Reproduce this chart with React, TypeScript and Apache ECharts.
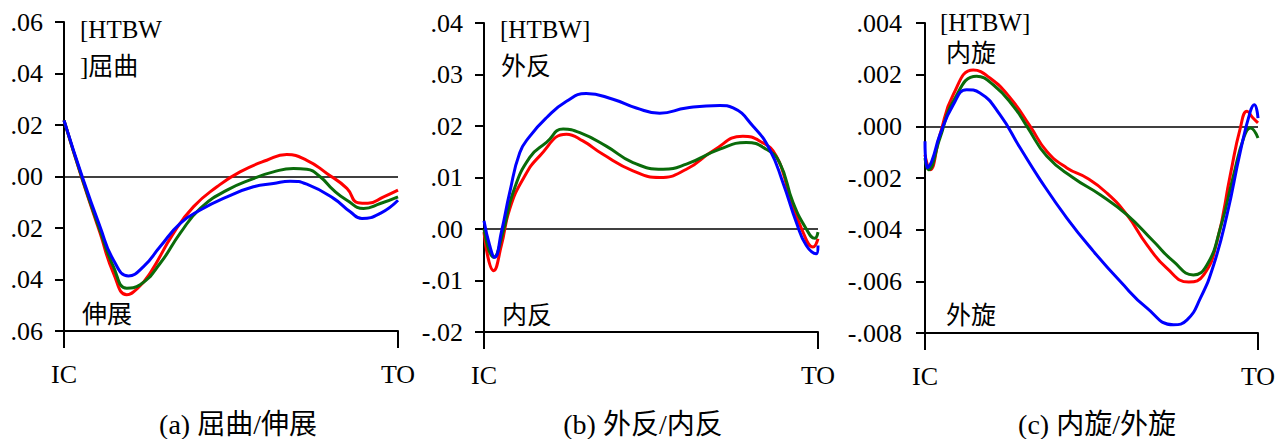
import React, { useEffect, useRef } from "react";
import * as echarts from "echarts";

// x: percent of stance (IC=0, TO=100); y: moment [HTBW]
const flexRed: number[][] = [[0,0.0218],[5.3,-0.0005],[10.8,-0.022],[14.8,-0.0375],[18.8,-0.0459],[22,-0.0435],[25.8,-0.0375],[32.8,-0.022],[38.8,-0.0117],[45.8,-0.004],[52.7,0.0018],[60.7,0.0063],[66.7,0.0085],[72.7,0.0063],[78.7,0.0012],[84.7,-0.0046],[88,-0.0102],[91,-0.0104],[95.7,-0.0079],[100,-0.0053]];
const flexGreen: number[][] = [[0,0.0218],[5.5,-0.001],[10.8,-0.021],[14.8,-0.035],[18.8,-0.0434],[22.8,-0.042],[28.8,-0.0337],[34.8,-0.022],[40.8,-0.0124],[48.8,-0.0053],[56.7,-0.0008],[62.7,0.0018],[68.7,0.0031],[72.7,0.0028],[76.7,-0.0001],[80.7,-0.0053],[84.7,-0.0092],[89.7,-0.0124],[94.7,-0.0105],[100,-0.0079]];
const flexBlue: number[][] = [[0,0.0218],[5.8,-0.0014],[10.8,-0.0195],[14.8,-0.0324],[19.3,-0.0386],[23.8,-0.035],[28.8,-0.0272],[34.8,-0.0182],[40.8,-0.013],[48.8,-0.0079],[56.7,-0.004],[62.7,-0.0027],[67.7,-0.0018],[72.7,-0.003],[80.7,-0.0085],[85.7,-0.0137],[89.2,-0.0163],[94.7,-0.0143],[100,-0.0092]];

const varRed: number[][] = [[0,-0.0006],[2.9,-0.0081],[5.2,-0.0032],[7.7,0.0039],[11.7,0.0097],[16.7,0.0142],[24.7,0.0184],[29.6,0.0171],[35.6,0.0145],[44.6,0.0113],[52.6,0.01],[60.6,0.0116],[68.6,0.0152],[77.5,0.018],[82.5,0.0171],[87.5,0.0142],[91.5,0.0065],[95.5,-0.0006],[98.5,-0.0035],[100,-0.0019]];
const varGreen: number[][] = [[0,0],[2.9,-0.0055],[5.7,-0.0006],[8.7,0.0071],[13.7,0.0139],[18.7,0.0168],[23.7,0.0194],[28.7,0.0187],[36.6,0.0161],[44.6,0.0129],[53.6,0.0116],[60.6,0.0126],[70.6,0.0155],[78.5,0.0168],[84.5,0.0155],[88.5,0.0129],[92.5,0.0052],[96.5,0],[99,-0.0018],[100,-0.0006]];
const varBlue: number[][] = [[0,0.0016],[1.7,-0.0032],[3.2,-0.0055],[5.2,-0.0006],[7.7,0.0071],[10.7,0.0148],[13.7,0.018],[18.7,0.0216],[24.7,0.0248],[30.6,0.0263],[38.6,0.0252],[45.6,0.0235],[52.6,0.0225],[60.6,0.0235],[70.6,0.024],[74.6,0.0235],[80.5,0.02],[85.5,0.0155],[89.5,0.009],[93.5,0.0013],[96.5,-0.0032],[99.5,-0.0048],[100,-0.0032]];

const rotRed: number[][] = [[0,-0.0011],[1.5,-0.00168],[4.5,-0.00032],[8.5,0.00123],[14.5,0.00218],[19.5,0.00187],[25.6,0.0011],[31.6,0],[36.6,-0.00097],[42.6,-0.00161],[48.6,-0.002],[54.6,-0.00258],[60.6,-0.00342],[66.6,-0.00458],[72.6,-0.00549],[79.2,-0.00603],[83.7,-0.00575],[87.7,-0.00445],[91.7,-0.00187],[94.7,-0.00006],[96.7,0.00058],[98.5,0.00032],[100,0.00013]];
const rotGreen: number[][] = [[0,-0.00123],[1,-0.00168],[4.5,-0.00045],[8.5,0.00097],[15.5,0.00194],[20.5,0.00161],[26.6,0.00077],[30.6,0],[36.6,-0.00116],[44.6,-0.002],[52.6,-0.00265],[60.6,-0.00342],[68.6,-0.00445],[74.6,-0.00523],[80.6,-0.00575],[84.7,-0.00536],[88.7,-0.00394],[92.7,-0.00187],[95.7,-0.00045],[97.7,-0.00006],[100,-0.00045]];
const rotBlue: number[][] = [[0,-0.00058],[0.7,-0.0016],[2,-0.00136],[4.5,-0.00032],[8.5,0.00084],[12.5,0.00142],[16.5,0.00129],[22.5,0.00045],[28.6,-0.00084],[34.6,-0.00207],[42.6,-0.00355],[50.6,-0.00484],[58.6,-0.006],[66.6,-0.00703],[74.6,-0.00768],[78.7,-0.00749],[82.7,-0.00665],[86.7,-0.00536],[90.7,-0.00342],[94.7,-0.00097],[97.7,0.00058],[98.9,0.00084],[100,0.00032]];

const xTickLabels = ["IC", "TO"];
const captions = ["(a) 屈曲/伸展", "(b) 外反/内反", "(c) 内旋/外旋"];
const yRanges = [[-0.06, 0.06, 0.02], [-0.02, 0.04, 0.01], [-0.008, 0.004, 0.002]];

const LATIN = "'Liberation Serif', 'Times New Roman', 'Noto Sans CJK SC', serif";
const COLORS = ["#ff0000", "#0a6b0a", "#0000ff"];

export default function App() {
  const ref = useRef<HTMLDivElement>(null);
  useEffect(() => {
    if (!ref.current) return;
    const chart = echarts.init(ref.current, undefined, { renderer: "svg" });
    const grids = [
      { left: 64, top: 22, width: 334, height: 309 },
      { left: 484, top: 23, width: 334, height: 309 },
      { left: 925, top: 23, width: 333, height: 310 },
    ];
    const decimals = [2, 2, 3];
    const labelMargins = [21, 21, 23];
    const xAxis = grids.map((_, i) => ({
      type: "value" as const,
      gridIndex: i,
      min: 0,
      max: 100,
      interval: 100,
      axisLine: { onZero: false, lineStyle: { color: "#000", width: 2 } },
      axisTick: { show: true, length: 17, inside: false, lineStyle: { color: "#000", width: 2 } },
      axisLabel: {
        margin: 30,
        fontFamily: LATIN,
        fontSize: 26,
        color: "#000",
        formatter: (v: number) => (v === 0 ? xTickLabels[0] : v === 100 ? xTickLabels[1] : ""),
      },
      splitLine: { show: false },
    }));
    const yAxis = grids.map((_, i) => ({
      type: "value" as const,
      gridIndex: i,
      min: yRanges[i][0],
      max: yRanges[i][1],
      interval: yRanges[i][2],
      axisLine: { show: true, lineStyle: { color: "#000", width: 2 } },
      axisTick: { show: true, length: 9, inside: false, lineStyle: { color: "#000", width: 2 } },
      axisLabel: {
        margin: labelMargins[i],
        fontFamily: LATIN,
        fontSize: 26,
        color: "#000",
        formatter: (v: number) => {
          const s = Math.abs(v).toFixed(decimals[i]).replace(/^0/, "");
          if (i === 0) return s;
          return v < -1e-9 ? "-" + s : s;
        },
      },
      splitLine: { show: false },
    }));
    const sets = [
      [flexRed, flexGreen, flexBlue],
      [varRed, varGreen, varBlue],
      [rotRed, rotGreen, rotBlue],
    ];
    const series: any[] = [];
    sets.forEach((set, g) => {
      set.forEach((data, k) => {
        series.push({
          type: "line",
          xAxisIndex: g,
          yAxisIndex: g,
          data,
          smooth: 0.5,
          showSymbol: false,
          lineStyle: { color: COLORS[k], width: 3 },
          z: 3 + k,
          markLine:
            k === 0
              ? {
                  silent: true,
                  symbol: "none",
                  label: { show: false },
                  lineStyle: { color: "#000", width: 1.5, type: "solid" },
                  data: [{ yAxis: 0 }],
                  z: 2,
                }
              : undefined,
        });
      });
    });
    const txt = (x: number, y: number, text: string, size = 25, align = "left") => ({
      type: "text",
      x,
      y,
      style: {
        text,
        fill: "#000",
        font: `${size}px ${LATIN}`,
        textAlign: align,
        textVerticalAlign: "middle",
      },
      z: 10,
    });
    const graphic = [
      txt(80, 29, "[HTBW", 25),
      txt(80, 66, "]屈曲", 25),
      txt(82, 314, "伸展", 25),
      txt(500, 29, "[HTBW]", 25),
      txt(501, 66, "外反", 25),
      txt(502, 315, "内反", 25),
      txt(940, 22, "[HTBW]", 25),
      txt(946, 53, "内旋", 25),
      txt(946, 315, "外旋", 25),
      txt(238, 424, captions[0], 28, "center"),
      txt(643, 424, captions[1], 28, "center"),
      txt(1097, 424, captions[2], 28, "center"),
    ];
    chart.setOption({
      animation: false,
      backgroundColor: "#fff",
      grid: grids,
      xAxis,
      yAxis,
      series,
      graphic,
    });
    return () => chart.dispose();
  }, []);
  return (
    <div
      ref={ref}
      style={{ position: "fixed", left: 0, top: 0, width: 1279, height: 439, background: "#fff" }}
    />
  );
}
